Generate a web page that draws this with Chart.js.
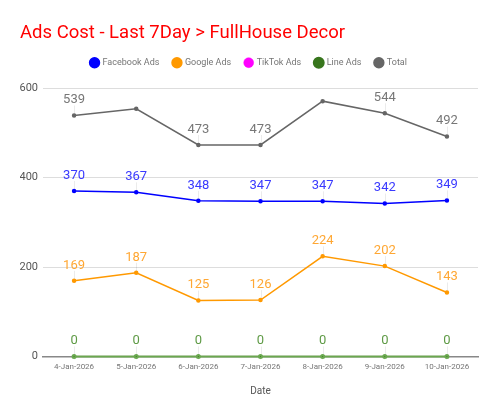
<!DOCTYPE html>
<html>
<head>
<meta charset="utf-8">
<script src="https://cdn.jsdelivr.net/npm/chart.js@4"></script>
<style>
  html, body { margin: 0; padding: 0; background: #fff; }
  #wrap { width: 500px; height: 415px; }
</style>
</head>
<body>
<div id="wrap"><canvas id="chart"></canvas></div>
<script>
const dates = ['4-Jan-2026', '5-Jan-2026', '6-Jan-2026', '7-Jan-2026', '8-Jan-2026', '9-Jan-2026', '10-Jan-2026'];
const facebookAds = [370, 367, 348, 347, 347, 342, 349];
const googleAds = [169, 187, 125, 126, 224, 202, 143];
const tiktokAds = [0, 0, 0, 0, 0, 0, 0];
const lineAds = [0, 0, 0, 0, 0, 0, 0];
const total = [539, 554, 473, 473, 571, 544, 492];
// labels that the original leaves out
const totalHiddenLabels = [1, 4];

const FONT = 'Roboto, "Noto Sans", sans-serif';

// value labels above points, with a short leader line
const valueLabels = {
  id: 'valueLabels',
  afterDatasetsDraw(chart) {
    const ctx = chart.ctx;
    ctx.save();
    chart.data.datasets.forEach((ds, i) => {
      if (ds.noLabels) return;
      const meta = chart.getDatasetMeta(i);
      meta.data.forEach((pt, j) => {
        if (ds.skipLabels && ds.skipLabels.includes(j)) return;
        ctx.strokeStyle = 'rgba(0,0,0,0.08)';
        ctx.lineWidth = 1;
        ctx.beginPath();
        ctx.moveTo(Math.round(pt.x) + 0.5, pt.y - 2);
        ctx.lineTo(Math.round(pt.x) + 0.5, pt.y - 10);
        ctx.stroke();
        ctx.fillStyle = ds.labelColor;
        ctx.font = '13px ' + FONT;
        ctx.textAlign = 'center';
        ctx.textBaseline = 'bottom';
        ctx.fillText(ds.data[j], pt.x, pt.y - 9);
      });
    });
    ctx.restore();
  }
};

// extra gap under the legend
const legendGap = {
  id: 'legendGap',
  beforeInit(chart) {
    const fit = chart.legend.fit;
    chart.legend.fit = function () {
      fit.bind(chart.legend)();
      this.height += 11;
    };
  }
};

function series(label, data, color, labelColor, order) {
  return {
    label, data, order,
    borderColor: color,
    backgroundColor: color,
    labelColor,
    borderWidth: 1.5,
    pointRadius: 1.5,
    pointHoverRadius: 3,
    tension: 0,
    clip: false
  };
}

// lower order is drawn on top
const datasets = [
  series('Facebook Ads', facebookAds, '#0000ff', '#3a3aff', 1),
  series('Google Ads', googleAds, '#ff9900', '#ffa733', 2),
  Object.assign(series('TikTok Ads', tiktokAds, '#ff00ff', '#ff33ff', 4), { noLabels: true, borderWidth: 0.5, pointRadius: 0.5 }),
  Object.assign(series('Line Ads', lineAds, '#38761d', '#5e9a45', 0), { borderColor: '#6aa84f', borderWidth: 2 }),
  Object.assign(series('Total', total, '#666666', '#777777', 3), { skipLabels: totalHiddenLabels })
];

new Chart(document.getElementById('chart'), {
  type: 'line',
  data: { labels: dates, datasets },
  options: {
    responsive: true,
    maintainAspectRatio: false,
    animation: false,
    layout: { padding: { left: 20, right: 22, top: 4, bottom: 14 } },
    plugins: {
      title: {
        display: true,
        text: 'Ads Cost - Last 7Day > FullHouse Decor',
        align: 'start',
        color: '#ff0000',
        font: { family: FONT, size: 18.5, weight: 'normal' },
        padding: { top: 18, bottom: 0 }
      },
      legend: {
        labels: {
          usePointStyle: true,
          pointStyle: 'circle',
          boxWidth: 7,
          boxHeight: 7,
          padding: 14,
          color: '#757575',
          font: { family: FONT, size: 9 },
          sort: (a, b) => a.datasetIndex - b.datasetIndex,
          generateLabels: (chart) => Chart.defaults.plugins.legend.labels.generateLabels(chart).map(item => {
            const ds = chart.data.datasets[item.datasetIndex];
            item.fillStyle = ds.backgroundColor;
            item.strokeStyle = ds.backgroundColor;
            return item;
          })
        }
      },
      tooltip: { enabled: true }
    },
    scales: {
      x: {
        offset: true,
        grid: { display: true, offset: false, drawOnChartArea: false, drawTicks: true, tickLength: 3, color: '#eeeeee' },
        border: { color: '#888888', width: 1.5 },
        ticks: { color: '#757575', font: { family: FONT, size: 8 }, maxRotation: 0, padding: 3 },
        title: { display: true, text: 'Date', color: '#555555', font: { family: FONT, size: 10 }, padding: { top: 10 } }
      },
      y: {
        min: 0,
        max: 600,
        afterFit: (scale) => { scale.width = 23; },
        ticks: { stepSize: 200, color: '#555555', font: { family: FONT, size: 11 }, padding: 5 },
        grid: { color: '#dddddd', drawTicks: false },
        border: { display: false }
      }
    }
  },
  plugins: [valueLabels, legendGap]
});
</script>
</body>
</html>
